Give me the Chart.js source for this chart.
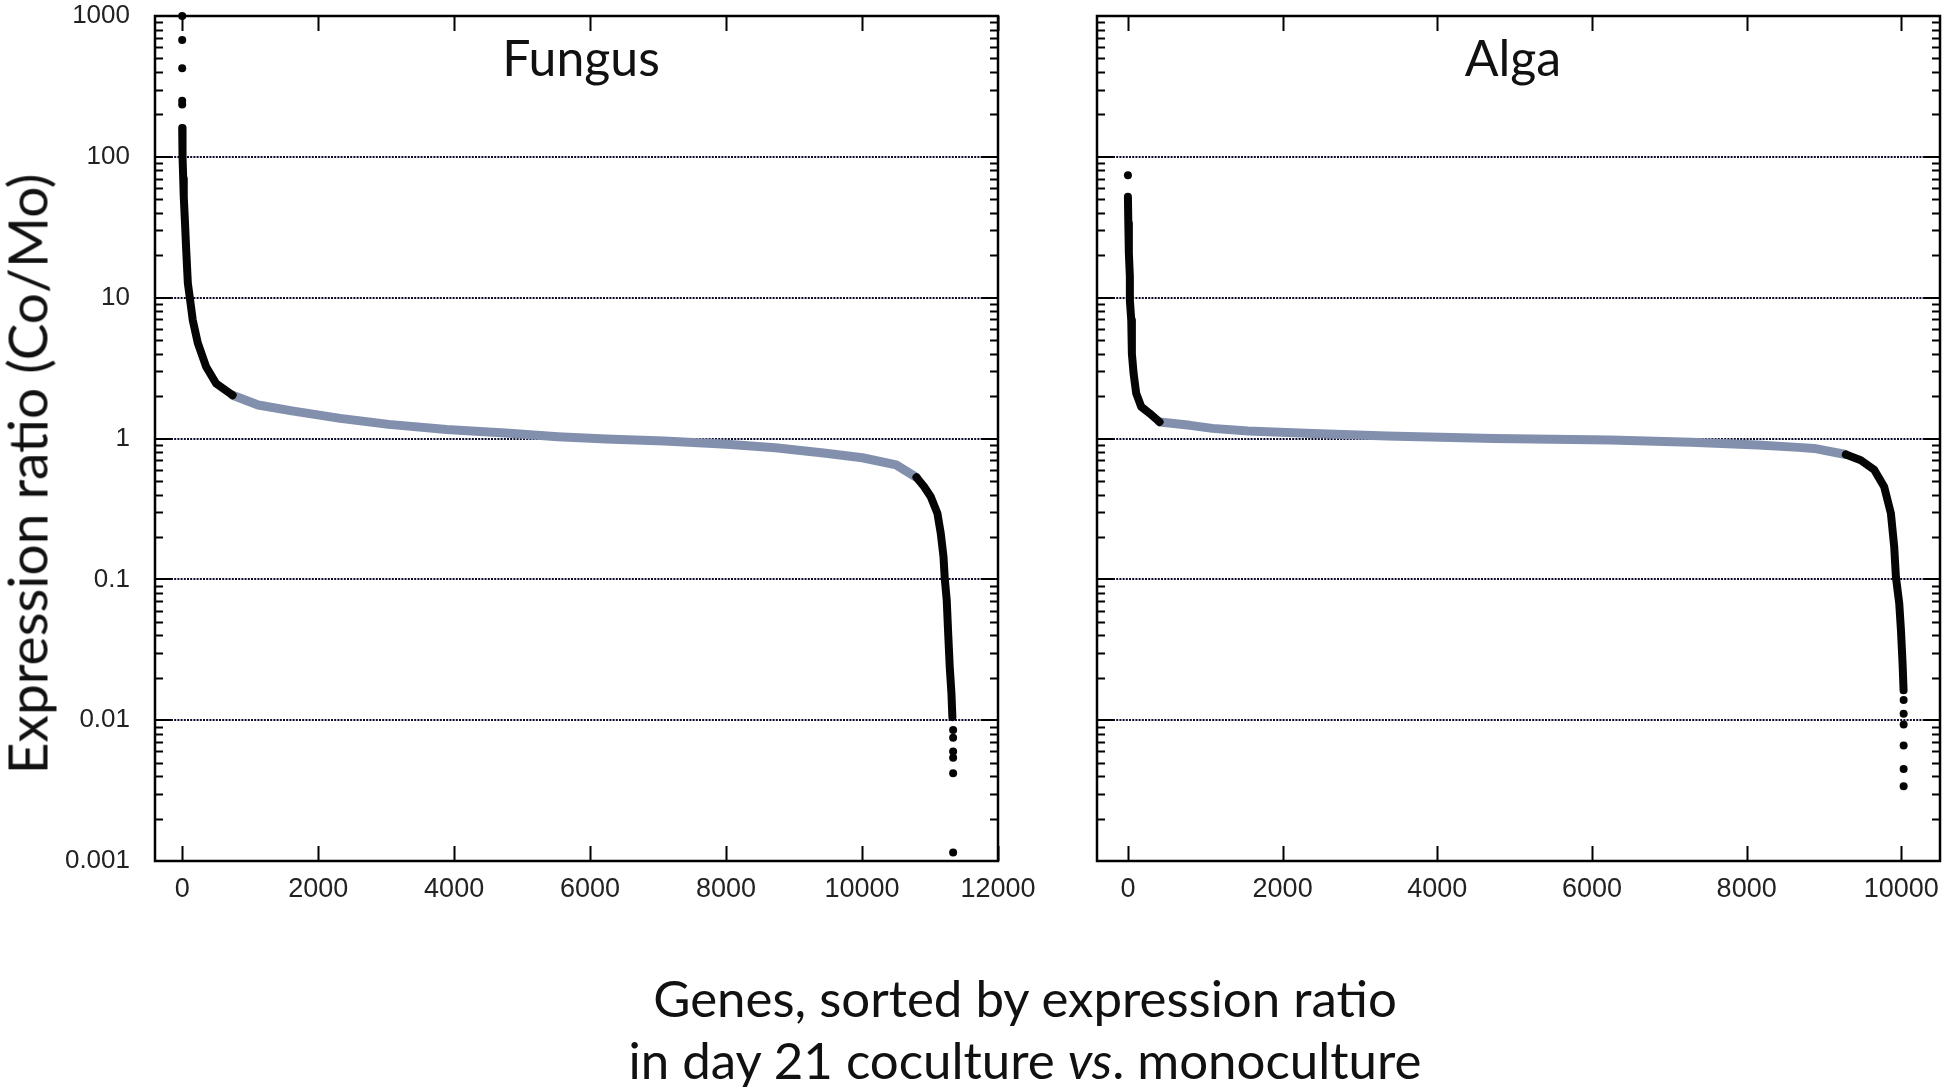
<!DOCTYPE html>
<html><head><meta charset="utf-8">
<script src="https://cdn.jsdelivr.net/npm/chart.js"></script>
<style>
html,body{margin:0;padding:0;background:#fff;width:1946px;height:1087px;overflow:hidden;position:relative;}
canvas{position:absolute;top:0;}
#c1{left:0;}
#c2{left:1040px;}
.t{position:absolute;color:#111;font-family:Lato,"Open Sans",sans-serif;font-size:50px;white-space:nowrap;line-height:1;}
</style></head><body>
<canvas id="c1" width="1040" height="920"></canvas>
<canvas id="c2" width="906" height="920"></canvas>
<div class="t" style="left:581px;top:57px;transform:translate(-50%,-50%)">Fungus</div>
<div class="t" style="left:1513px;top:57px;transform:translate(-50%,-50%)">Alga</div>
<div class="t" style="left:27px;top:474px;font-size:55px;transform:translate(-50%,-50%) rotate(-90deg)">Expression ratio (Co/Mo)</div>
<div class="t" style="left:1025px;top:997px;font-size:51px;transform:translate(-50%,-50%)">Genes, sorted by expression ratio</div>
<div class="t" style="left:1025px;top:1059px;font-size:51px;transform:translate(-50%,-50%)">in day 21 coculture <i>vs</i>. monoculture</div>
<script>
// ---- tick definitions ----
const yTickValues = [0.001, 0.01, 0.1, 1, 10, 100, 1000];
const yTickLabels = ['0.001', '0.01', '0.1', '1', '10', '100', '1000'];
const fungusXTicks = [0, 2000, 4000, 6000, 8000, 10000, 12000];
const fungusXLabels = ['0', '2000', '4000', '6000', '8000', '10000', '12000'];
const algaXTicks = [0, 2000, 4000, 6000, 8000, 10000];
const algaXLabels = ['0', '2000', '4000', '6000', '8000', '10000'];

// ---- Fungus data (gene rank, expression ratio) ----
const fungusOutHighX = [0, 0, 0, 0, 0];
const fungusOutHighY = [1000, 675, 425, 250, 235];
const fungusHighX = [0, 5, 15, 23, 40, 59, 83, 117, 156, 229, 352, 499, 742];
const fungusHighY = [160, 100, 70, 52, 35, 21.8, 12.7, 9.6, 6.9, 4.77, 3.23, 2.46, 2.03];
const fungusMidX = [742, 1117, 1614, 2325, 3037, 3889, 4813, 5525, 6236, 7090, 8014, 8724, 9436, 10005, 10502, 10800];
const fungusMidY = [2.03, 1.73, 1.57, 1.39, 1.26, 1.16, 1.09, 1.03, 0.99, 0.96, 0.91, 0.86, 0.79, 0.73, 0.65, 0.53];
const fungusLowX = [10800, 10914, 11011, 11109, 11158, 11198, 11217, 11246, 11267, 11290, 11315, 11329];
const fungusLowY = [0.53, 0.454, 0.386, 0.294, 0.212, 0.145, 0.101, 0.071, 0.0415, 0.0239, 0.0155, 0.0105];
const fungusOutLowX = [11340, 11340, 11340, 11340, 11340, 11340];
const fungusOutLowY = [0.0085, 0.0075, 0.0060, 0.0054, 0.0042, 0.00115];

// ---- Alga data ----
const algaOutHighX = [0];
const algaOutHighY = [74];
const algaHighX = [0, 5, 12, 25, 25, 43, 51, 73, 107, 172, 280, 409];
const algaHighY = [52, 33.7, 20.7, 14.1, 9.6, 6.9, 4.0, 2.9, 2.09, 1.68, 1.51, 1.31];
const algaMidX = [409, 803, 1092, 1554, 2306, 3347, 4734, 6238, 7280, 8146, 8667, 8872, 9282];
const algaMidY = [1.31, 1.24, 1.18, 1.13, 1.09, 1.04, 1.00, 0.975, 0.94, 0.90, 0.865, 0.85, 0.77];
const algaLowX = [9282, 9476, 9649, 9778, 9865, 9908, 9930, 9973, 9995, 10016, 10029];
const algaLowY = [0.77, 0.70, 0.60, 0.454, 0.294, 0.170, 0.104, 0.0674, 0.0436, 0.0253, 0.0163];
const algaOutLowX = [10030, 10030, 10030, 10030, 10030, 10030];
const algaOutLowY = [0.0139, 0.0111, 0.0093, 0.0066, 0.0045, 0.0034];

const GRAY = '#8290ae';
const BLACK = '#050505';
const pts = (xs, ys) => xs.map((x, i) => ({x: x, y: ys[i]}));

function lineSet(xs, ys, color, w, order) {
  return {data: pts(xs, ys), showLine: true, borderColor: color, borderWidth: w,
    pointRadius: 0, borderCapStyle: 'round', borderJoinStyle: 'round', clip: false, order: order};
}
function dotSet(xs, ys) {
  return {data: pts(xs, ys), showLine: false, pointRadius: 4, pointBackgroundColor: BLACK,
    pointBorderWidth: 0, clip: false, order: 0};
}

const frameTicks = {
  id: 'frameTicks',
  afterDatasetsDraw(chart, args, opts) {
    const ctx = chart.ctx, a = chart.chartArea;
    const xs = chart.scales.x, ys = chart.scales.y;
    ctx.save();
    ctx.strokeStyle = '#000';
    ctx.lineWidth = 2;
    opts.xTicks.forEach(v => {
      const px = Math.round(xs.getPixelForValue(v)) + 0.5;
      ctx.beginPath();
      ctx.moveTo(px, a.bottom); ctx.lineTo(px, a.bottom - 15);
      ctx.moveTo(px, a.top); ctx.lineTo(px, a.top + 15);
      ctx.stroke();
    });
    yTickValues.forEach((d, i) => {
      const majors = Math.round(ys.getPixelForValue(d));
      ctx.beginPath();
      ctx.moveTo(a.left, majors); ctx.lineTo(a.left + 16, majors);
      ctx.moveTo(a.right, majors); ctx.lineTo(a.right - 16, majors);
      ctx.stroke();
      if (i < yTickValues.length - 1) {
        for (let m = 2; m <= 9; m++) {
          const py = Math.round(ys.getPixelForValue(d * m)) + 0.5;
          ctx.beginPath();
          ctx.moveTo(a.left, py); ctx.lineTo(a.left + 8, py);
          ctx.moveTo(a.right, py); ctx.lineTo(a.right - 8, py);
          ctx.stroke();
        }
      }
    });
    ctx.lineWidth = 2.5;
    ctx.strokeRect(a.left, a.top, a.right - a.left, a.bottom - a.top);
    ctx.restore();
  }
};

function makeChart(id, xMin, xMax, xTicks, xLabels, datasets, showY, yWidth, padRight) {
  return new Chart(document.getElementById(id), {
    type: 'scatter',
    data: {datasets: datasets},
    plugins: [frameTicks],
    options: {
      responsive: false, animation: false, devicePixelRatio: 1,
      layout: {padding: {top: 16, right: padRight, left: 0, bottom: 0}},
      plugins: {legend: {display: false}, tooltip: {enabled: false}, frameTicks: {xTicks: xTicks}},
      scales: {
        x: {
          type: 'linear', min: xMin, max: xMax,
          afterBuildTicks: s => { s.ticks = xTicks.map(v => ({value: v})); },
          afterFit: s => { s.height = 59; s.paddingLeft = 0; s.paddingRight = 0; },
          grid: {display: false, drawTicks: false},
          border: {display: false},
          ticks: {autoSkip: false, maxRotation: 0, padding: 12, color: '#222',
            font: {family: 'Liberation Sans', size: 27},
            callback: (v, i) => xLabels[i]}
        },
        y: {
          type: 'logarithmic', min: 0.001, max: 1000,
          afterBuildTicks: s => { s.ticks = yTickValues.map(v => ({value: v})); },
          afterFit: s => { s.width = yWidth; s.paddingTop = 0; s.paddingBottom = 0; },
          grid: {color: '#0a0a2a', lineWidth: 2, drawTicks: false},
          border: {display: false, dash: [2, 1.2]},
          ticks: {display: showY, padding: 25, color: '#222',
            font: {family: 'Liberation Sans', size: 26},
            callback: (v, i) => yTickLabels[i]}
        }
      }
    }
  });
}

makeChart('c1', -400, 12000, fungusXTicks, fungusXLabels, [
  dotSet(fungusOutHighX, fungusOutHighY),
  dotSet(fungusOutLowX, fungusOutLowY),
  lineSet(fungusHighX, fungusHighY, BLACK, 8, 1),
  lineSet(fungusLowX, fungusLowY, BLACK, 8, 1),
  lineSet(fungusMidX, fungusMidY, GRAY, 9, 2)
], true, 155, 42);

makeChart('c2', -400, 10500, algaXTicks, algaXLabels, [
  dotSet(algaOutHighX, algaOutHighY),
  dotSet(algaOutLowX, algaOutLowY),
  lineSet(algaHighX, algaHighY, BLACK, 8, 1),
  lineSet(algaLowX, algaLowY, BLACK, 8, 1),
  lineSet(algaMidX, algaMidY, GRAY, 9, 2)
], false, 57, 6);
</script>
</body></html>
